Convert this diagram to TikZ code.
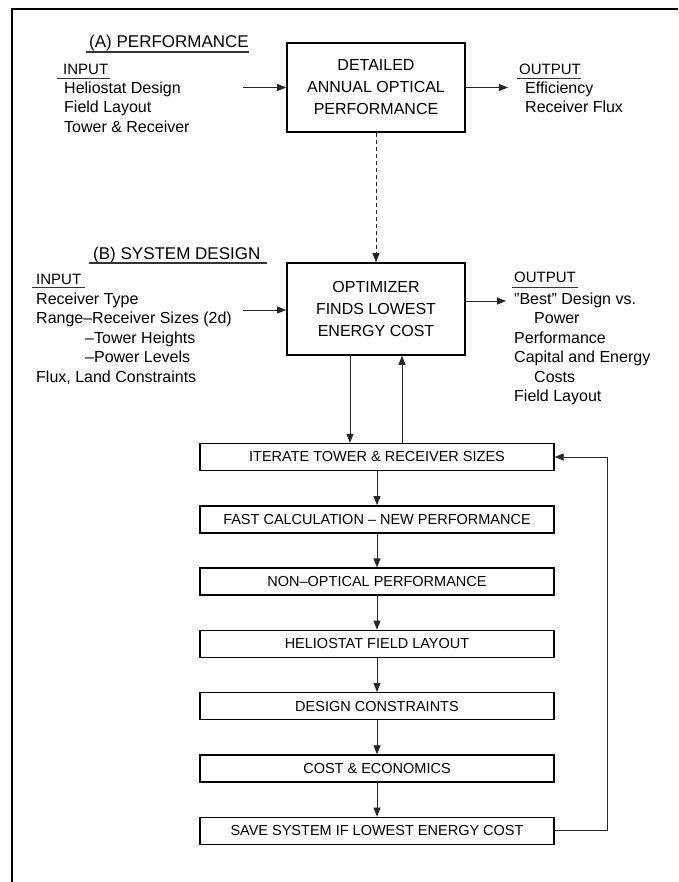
\documentclass[tikz,border=0pt]{standalone}
\usepackage{fontspec}
\setmainfont{Liberation Sans}
\usetikzlibrary{arrows.meta}
\begin{document}
\begin{tikzpicture}[x=1pt,y=-1pt,
  bigbox/.style={draw, line width=1.6pt, minimum width=178pt, inner sep=0pt, align=center, font=\fontsize{16}{22}\selectfont},
  flowbox/.style={draw, line width=1.4pt, minimum width=354pt, minimum height=27pt, inner sep=0pt, font=\fontsize{14.5}{17}\selectfont},
  arr/.style={-{Triangle[length=9pt,width=7pt]}, line width=0.8pt, draw=black!85},
  sidetext/.style={anchor=north west, inner sep=0pt, align=left, font=\fontsize{16}{19.5}\selectfont},
  hdtext/.style={anchor=base west, inner sep=0pt, font=\fontsize{15}{18}\selectfont},
  heading/.style={anchor=base west, inner sep=0pt, font=\fontsize{17}{20}\selectfont},
  uline/.style={line width=1pt, draw=black!80},
  hline/.style={line width=1.6pt, draw=black!80}]
\useasboundingbox (0,0) rectangle (678,882);
% frame
\draw[line width=2.5pt] (12,882) -- (12,9) -- (678,9);

% (A) performance
\node[heading] (headA) at (89,48) {(A) PERFORMANCE};
\draw[hline] (86,52) -- (249,52);
\node[bigbox, minimum height=89pt] (perf) at (376,87.5) {DETAILED\\ANNUAL OPTICAL\\PERFORMANCE};
\node[hdtext] (inA) at (63,75) {INPUT};
\draw[uline] (57,78.5) -- (110,78.5);
\node[sidetext] (inAlist) at (64,81.3) {Heliostat Design\\Field Layout\\Tower \& Receiver};
\node[hdtext] (outA) at (519,75) {OUTPUT};
\draw[uline] (517,78.5) -- (581,78.5);
\node[sidetext] (outAlist) at (525,81.3) {Efficiency\\Receiver Flux};
\coordinate (inAstart) at (243,87.5);
\coordinate (outAend) at (508,87.5);
\draw[arr] (inAstart) -- (perf.west);
\draw[arr] (perf.east) -- (outAend);

% (B) system design
\node[heading] (headB) at (93,259) {(B) SYSTEM DESIGN};
\draw[hline] (89,263) -- (267,263);
\node[bigbox, minimum height=92pt] (opt) at (376,309) {OPTIMIZER\\FINDS LOWEST\\ENERGY COST};
\node[hdtext] (inB) at (36,284) {INPUT};
\draw[uline] (32,287.5) -- (85,287.5);
\node[sidetext] (inBlist) at (36,292.3) {Receiver Type\\Range–Receiver Sizes (2d)\\\hspace*{49pt}–Tower Heights\\\hspace*{49pt}–Power Levels\\Flux, Land Constraints};
\node[hdtext] (outB) at (514,283) {OUTPUT};
\draw[uline] (512,287.5) -- (578,287.5);
\node[sidetext] (outBlist) at (514,292.3) {''Best'' Design vs.\\\hspace*{20pt}Power\\Performance\\Capital and Energy\\\hspace*{20pt}Costs\\Field Layout};
\coordinate (inBstart) at (243,310);
\coordinate (outBend) at (506,301);
\draw[arr] (inBstart) -- (inBstart -| opt.west);
\draw[arr] (outBend -| opt.east) -- (outBend);
\draw[arr, dash pattern=on 4pt off 3pt] (perf.south) -- (opt.north);

% flow boxes
\node[flowbox] (iter) at (377,457) {ITERATE TOWER \& RECEIVER SIZES};
\node[flowbox] (fast) at (377,519.3) {FAST CALCULATION – NEW PERFORMANCE};
\node[flowbox] (nonopt) at (377,581.6) {NON–OPTICAL PERFORMANCE};
\node[flowbox] (helio) at (377,643.9) {HELIOSTAT FIELD LAYOUT};
\node[flowbox] (design) at (377,706.2) {DESIGN CONSTRAINTS};
\node[flowbox] (cost) at (377,768.5) {COST \& ECONOMICS};
\node[flowbox] (save) at (377,830.8) {SAVE SYSTEM IF LOWEST ENERGY COST};

\coordinate (dn) at (350,0);
\coordinate (up) at (402,0);
\draw[arr] (opt.south -| dn) -- (iter.north -| dn);
\draw[arr] (iter.north -| up) -- (opt.south -| up);

\draw[arr] (iter.south) -- (fast.north);
\draw[arr] (fast.south) -- (nonopt.north);
\draw[arr] (nonopt.south) -- (helio.north);
\draw[arr] (helio.south) -- (design.north);
\draw[arr] (design.south) -- (cost.north);
\draw[arr] (cost.south) -- (save.north);

\coordinate (fb) at (607,0);
\draw[arr] (save.east) -- (save.east -| fb) -- (iter.east -| fb) -- (iter.east);
\end{tikzpicture}
\end{document}
